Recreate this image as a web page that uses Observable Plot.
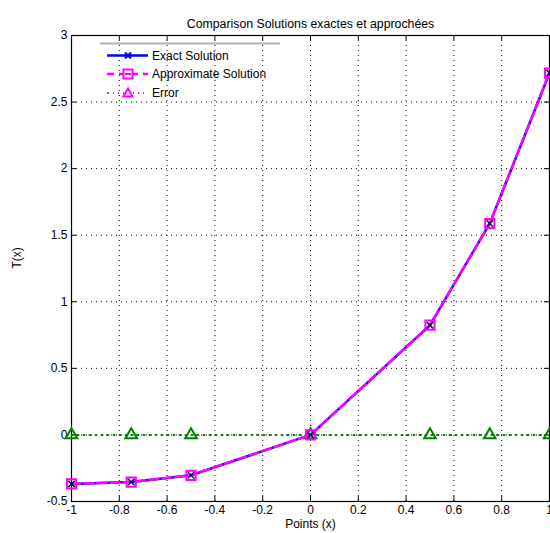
<!DOCTYPE html>
<html><head><meta charset="utf-8">
<script src="https://cdn.jsdelivr.net/npm/d3@7"></script>
<script src="https://cdn.jsdelivr.net/npm/@observablehq/plot@0.6"></script>
<style>
body{margin:0;background:#fff;font-family:"Liberation Sans",Arial,sans-serif;}
#wrap{position:relative;width:550px;height:533px;}
#legend{position:absolute;left:0;top:0;}
</style>
</head><body>
<div id="wrap"></div>
<script>
const xs = [-1, -0.75, -0.5, 0, 0.5, 0.75, 1];
const exact = [-0.368, -0.354, -0.303, 0, 0.824, 1.588, 2.718];
const approx = [-0.368, -0.354, -0.303, 0, 0.824, 1.588, 2.718];
const error = [0, 0, 0, 0, 0, 0, 0];
const xTicks = [-1, -0.8, -0.6, -0.4, -0.2, 0, 0.2, 0.4, 0.6, 0.8, 1];
const yTicks = [-0.5, 0, 0.5, 1, 1.5, 2, 2.5, 3];
const title = "Comparison Solutions exactes et approchées";
const xLabel = "Points (x)";
const yLabel = "T(x)";
const seriesNames = ["Exact Solution", "Approximate Solution", "Error"];

const ex = xs.map((x, i) => ({x, y: exact[i]}));
const ap = xs.map((x, i) => ({x, y: approx[i]}));
const er = xs.map((x, i) => ({x, y: error[i]}));

const W = 550, H = 533, mL = 71, mR = 1, mT = 35, mB = 32;
const fw = W - mL - mR, fh = H - mT - mB;

const plot = Plot.plot({
  width: W, height: H,
  marginLeft: mL, marginRight: mR, marginTop: mT, marginBottom: mB,
  style: {fontFamily: "Liberation Sans, Arial, sans-serif", fontSize: "12px", color: "#000", background: "#fff"},
  x: {domain: [-1, 1]},
  y: {domain: [-0.5, 3]},
  marks: [
    Plot.ruleX(xTicks.slice(1, -1), {stroke: "#000", strokeWidth: 1, strokeDasharray: "1,4"}),
    Plot.ruleY(yTicks.slice(1, -1), {stroke: "#000", strokeWidth: 1, strokeDasharray: "1,4"}),
    Plot.tickX(xTicks, {x: d => d, insetTop: fh - 5, stroke: "#000"}),
    Plot.tickX(xTicks, {x: d => d, insetBottom: fh - 5, stroke: "#000"}),
    Plot.tickY(yTicks, {y: d => d, insetRight: fw - 5, stroke: "#000"}),
    Plot.tickY(yTicks, {y: d => d, insetLeft: fw - 5, stroke: "#000"}),
    Plot.frame({stroke: "#000", strokeWidth: 1.2}),
    Plot.axisX(xTicks, {tickSize: 0, tickPadding: 4, fontSize: 12, label: null, tickFormat: d => String(d)}),
    Plot.axisY(yTicks, {tickSize: 0, tickPadding: 4, fontSize: 12, label: null, tickFormat: d => String(d)}),
    Plot.text([xLabel], {frameAnchor: "bottom", dy: 26.5, fontSize: 12, fill: "#000"}),
    Plot.text([yLabel], {frameAnchor: "left", dx: -54, rotate: -90, fontSize: 12, fill: "#000"}),
    Plot.text([title], {frameAnchor: "top", dy: -16, fontSize: 12.3, fill: "#000"}),
    Plot.line(er, {x: "x", y: "y", stroke: "#008000", strokeWidth: 2, strokeDasharray: "1,5"}),
    Plot.dot(er, {x: "x", y: "y", symbol: "triangle", r: 4.3, stroke: "#008000", strokeWidth: 2, fill: "none"}),
    Plot.line(ex, {x: "x", y: "y", stroke: "#0000ff", strokeWidth: 2.5}),
    Plot.line(ap, {x: "x", y: "y", stroke: "#ff00ff", strokeWidth: 2.5, strokeDasharray: "9,4"}),
    Plot.dot(ap, {x: "x", y: "y", symbol: "square", r: 5.2, stroke: "#ff00ff", strokeWidth: 2, fill: "none"}),
    Plot.dot(ex, {x: "x", y: "y", symbol: "times", r: 3, stroke: "#101050", strokeWidth: 1.5})
  ]
});
const wrap = document.getElementById("wrap");
wrap.appendChild(plot);

// legend overlay
const ns = "http://www.w3.org/2000/svg";
const lg = document.createElementNS(ns, "svg");
lg.setAttribute("id", "legend");
lg.setAttribute("width", 300); lg.setAttribute("height", 110);
function el(tag, attrs, parent) {
  const e = document.createElementNS(ns, tag);
  for (const k in attrs) e.setAttribute(k, attrs[k]);
  (parent || lg).appendChild(e);
  return e;
}
el("line", {x1: 100, x2: 280, y1: 43.5, y2: 43.5, stroke: "#b0b0b0", "stroke-width": 2});
const rows = [55.5, 74, 93];
// exact
el("line", {x1: 107, x2: 148, y1: rows[0], y2: rows[0], stroke: "#0000ff", "stroke-width": 2.5});
el("path", {d: `M125,${rows[0]-3}L131,${rows[0]+3}M125,${rows[0]+3}L131,${rows[0]-3}`, stroke: "#0000ff", "stroke-width": 2});
// approx
el("line", {x1: 107, x2: 148, y1: rows[1], y2: rows[1], stroke: "#ff00ff", "stroke-width": 2.5, "stroke-dasharray": "7,5"});
el("rect", {x: 123.5, y: rows[1]-4.5, width: 9, height: 9, stroke: "#ff00ff", "stroke-width": 2, fill: "#fff"});
el("line", {x1: 125, x2: 131, y1: rows[1], y2: rows[1], stroke: "#ff00ff", "stroke-width": 2});
// error
el("line", {x1: 108, x2: 148, y1: rows[2], y2: rows[2], stroke: "#ff00ff", "stroke-width": 2, "stroke-dasharray": "1,4"});
el("circle", {cx: 108, cy: rows[2], r: 1, fill: "#008000"});
el("path", {d: `M128,${rows[2]-4.5}L132.5,${rows[2]+3.5}L123.5,${rows[2]+3.5}Z`, stroke: "#ff00ff", "stroke-width": 2, fill: "#fff"});
seriesNames.forEach((s, i) => {
  const t = el("text", {x: 152, y: rows[i] + 4, "font-size": 12, "font-family": "Liberation Sans, Arial, sans-serif", fill: "#000"});
  t.textContent = s;
});
wrap.appendChild(lg);
</script>
</body></html>
